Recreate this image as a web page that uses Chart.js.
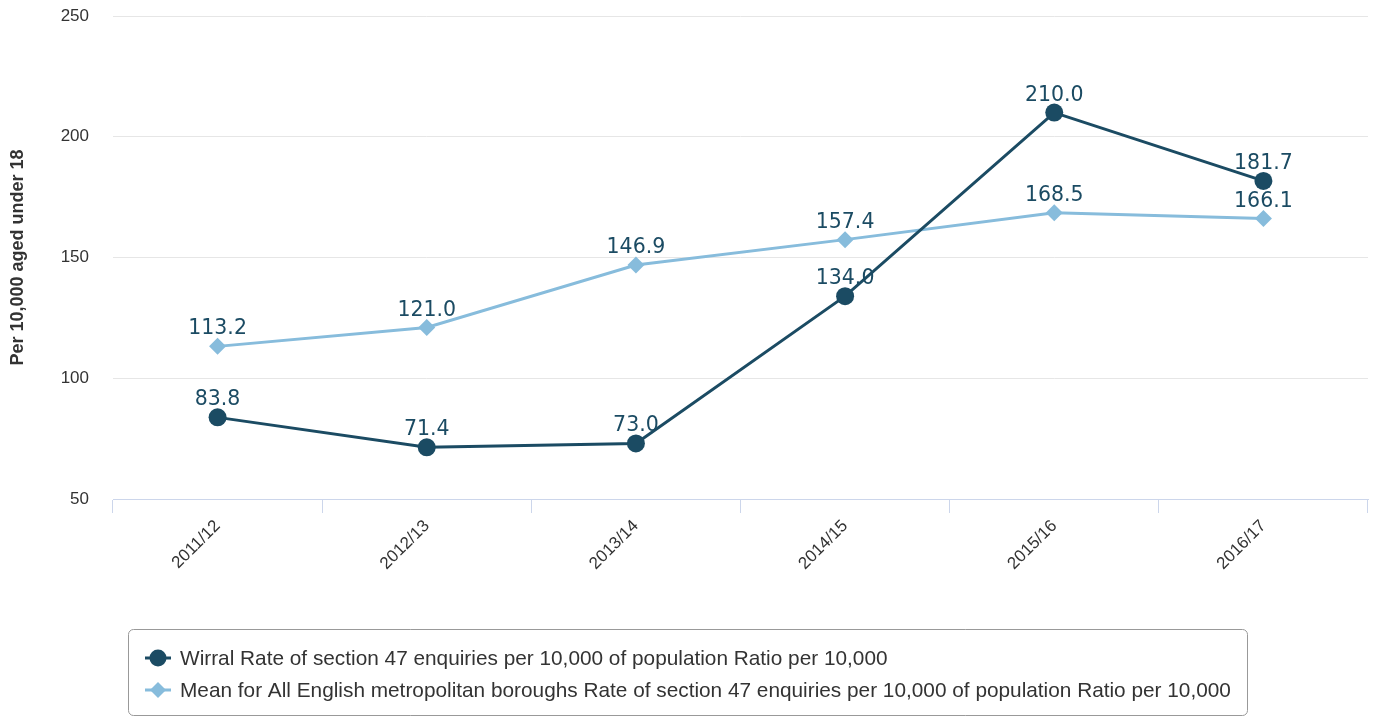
<!DOCTYPE html>
<html lang="en">
<head>
    <meta charset="UTF-8">
    <title>Section 47 enquiries</title>
    <script src="https://cdn.jsdelivr.net/npm/chart.js"></script>
    <style>
        html, body { margin: 0; padding: 0; background: #fff; }
        #wrap { width: 1377px; height: 717px; }
    </style>
</head>
<body>

<div id="wrap"><canvas id="s47Chart"></canvas></div>

<script>
// chart data
const years = ['2011/12', '2012/13', '2013/14', '2014/15', '2015/16', '2016/17'];
const wirralRate = [83.8, 71.4, 73.0, 134.0, 210.0, 181.7];
const metMean = [113.2, 121.0, 146.9, 157.4, 168.5, 166.1];
const yTicks = [50, 100, 150, 200, 250];
const seriesNames = [
    'Wirral Rate of section 47 enquiries per 10,000 of population Ratio per 10,000',
    'Mean for All English metropolitan boroughs Rate of section 47 enquiries per 10,000 of population Ratio per 10,000'
];

const DARK = '#1b4b63';
const LIGHT = '#87bcdc';

// value labels above every point
const valueLabels = {
    id: 'valueLabels',
    beforeDatasetsDraw(chart) {
        const ctx = chart.ctx;
        ctx.save();
        ctx.font = '20.5px "DejaVu Sans"';
        ctx.fillStyle = DARK;
        ctx.textAlign = 'center';
        ctx.textBaseline = 'alphabetic';
        chart.data.datasets.forEach((ds, i) => {
            chart.getDatasetMeta(i).data.forEach((pt, j) => {
                ctx.fillText(ds.data[j].toFixed(1), pt.x, pt.y - 12);
            });
        });
        ctx.restore();
    }
};

// boxed legend under the axis, one item per row
const boxLegend = {
    id: 'boxLegend',
    afterDraw(chart) {
        const ctx = chart.ctx;
        const left = 128.5, top = 629.5, rowH = 32, firstRow = 658;
        ctx.save();
        ctx.font = '20.8px "Liberation Sans"';
        let maxW = 0;
        chart.data.datasets.forEach(ds => { maxW = Math.max(maxW, ctx.measureText(ds.label).width); });
        ctx.strokeStyle = '#999999';
        ctx.lineWidth = 1;
        ctx.beginPath();
        ctx.roundRect(left, top, Math.round(maxW + 68), 86, 5);
        ctx.stroke();

        chart.data.datasets.forEach((ds, i) => {
            const y = firstRow + i * rowH;
            ctx.strokeStyle = ds.borderColor;
            ctx.lineWidth = 3;
            ctx.beginPath();
            ctx.moveTo(145, y);
            ctx.lineTo(171, y);
            ctx.stroke();
            ctx.fillStyle = ds.pointBackgroundColor;
            ctx.beginPath();
            if (ds.pointStyle === 'rectRot') {
                ctx.moveTo(158 - 8, y);
                ctx.lineTo(158, y - 8);
                ctx.lineTo(158 + 8, y);
                ctx.lineTo(158, y + 8);
                ctx.closePath();
            } else {
                ctx.arc(158, y, 8.5, 0, Math.PI * 2);
            }
            ctx.fill();
            ctx.fillStyle = '#333333';
            ctx.textAlign = 'left';
            ctx.textBaseline = 'middle';
            ctx.fillText(ds.label, 180, y + 1);
        });
        ctx.restore();
    }
};

const ctx = document.getElementById('s47Chart').getContext('2d');
const chart = new Chart(ctx, {
    type: 'line',
    data: {
        labels: years,
        datasets: [{
            label: seriesNames[0],
            data: wirralRate,
            borderColor: DARK,
            backgroundColor: DARK,
            pointBackgroundColor: DARK,
            pointBorderColor: DARK,
            pointStyle: 'circle',
            pointRadius: 9,
            pointBorderWidth: 0,
            borderWidth: 3,
            tension: 0
        }, {
            label: seriesNames[1],
            data: metMean,
            borderColor: LIGHT,
            backgroundColor: LIGHT,
            pointBackgroundColor: LIGHT,
            pointBorderColor: LIGHT,
            pointStyle: 'rectRot',
            pointRadius: 8.5,
            pointBorderWidth: 0,
            borderWidth: 3,
            tension: 0
        }]
    },
    options: {
        responsive: true,
        maintainAspectRatio: false,
        animation: false,
        layout: { padding: { top: 16, right: 9, bottom: 0, left: 0 } },
        plugins: {
            legend: { display: false },
            tooltip: { enabled: false }
        },
        scales: {
            x: {
                offset: true,
                grid: {
                    offset: true,
                    drawOnChartArea: false,
                    drawTicks: true,
                    tickLength: 14,
                    color: '#ccd6eb'
                },
                border: { display: true, color: '#ccd6eb', width: 1 },
                ticks: {
                    minRotation: 45,
                    maxRotation: 45,
                    padding: 3,
                    color: '#333333',
                    font: { family: 'Liberation Sans', size: 17 }
                },
                afterFit(scale) { scale.height = 218; }
            },
            y: {
                min: 50,
                max: 250,
                afterBuildTicks(scale) { scale.ticks = yTicks.map(v => ({ value: v })); },
                // invisible tick marks push the labels away from the plot
                grid: { color: '#e6e6e6', lineWidth: 1, drawTicks: true, tickLength: 24, tickColor: 'rgba(0,0,0,0)' },
                border: { display: false },
                ticks: {
                    padding: 0,
                    color: '#333333',
                    font: { family: 'Liberation Sans', size: 17 }
                },
                title: {
                    display: true,
                    text: 'Per 10,000 aged under 18',
                    color: '#333333',
                    font: { family: 'Liberation Sans', size: 18, weight: 'bold' },
                    padding: { top: 7, bottom: 0 }
                },
                afterFit(scale) { scale.width = 113; }
            }
        }
    },
    plugins: [valueLabels, boxLegend]
});
</script>

</body>
</html>
